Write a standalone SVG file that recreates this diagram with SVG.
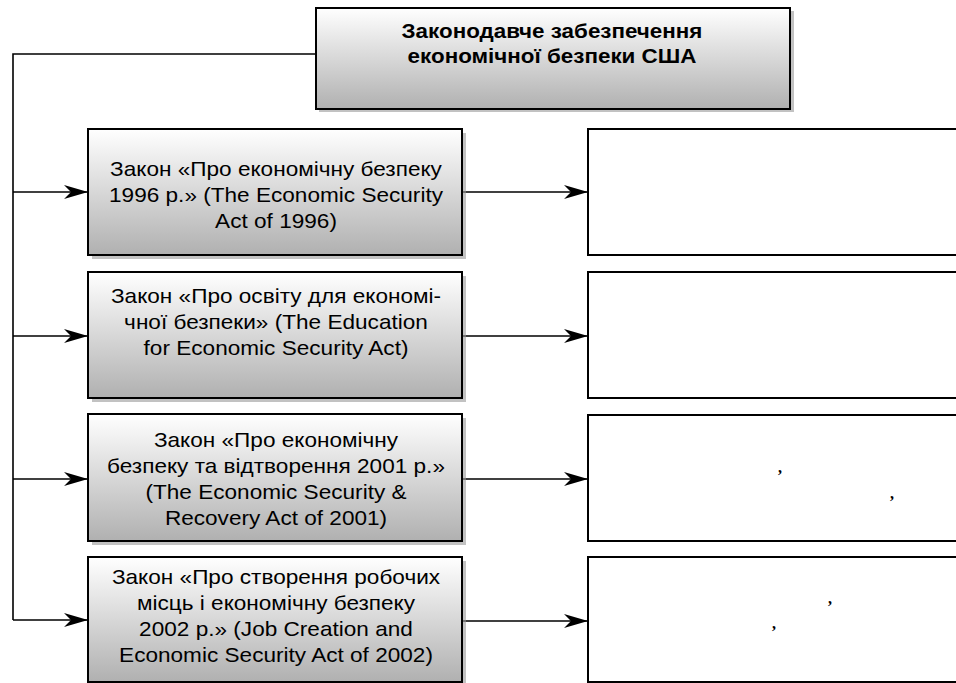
<svg xmlns="http://www.w3.org/2000/svg" width="956" height="683" viewBox="0 0 956 683">
<style>
.box{stroke:#000;stroke-width:2;fill:url(#g)}
.sh{fill:#9a9a9a;opacity:0.6}
.rbox{stroke:#000;stroke-width:2;fill:#fff}
.t{font-family:"Liberation Sans",Arial,sans-serif;font-size:20px;fill:#000;text-anchor:middle}
.tb{font-family:"Liberation Sans",Arial,sans-serif;font-size:20px;font-weight:bold;fill:#000;text-anchor:middle}
.c{font-family:"Liberation Serif","Times New Roman",serif;font-size:16px;font-weight:bold;fill:#000}
.ln{stroke:#000;stroke-width:1.6;fill:none}
</style>
<defs>
<linearGradient id="g" x1="0" y1="0" x2="0" y2="1">
<stop offset="0" stop-color="#ffffff"/>
<stop offset="1" stop-color="#b0b0b0"/>
</linearGradient>
<marker id="ah" markerUnits="userSpaceOnUse" viewBox="0 0 24 14" markerWidth="24" markerHeight="14" refX="24" refY="7" orient="auto">
<path d="M0,0 L24,7 L0,14 L7,7 z" fill="#000"/>
</marker>
</defs>
<g id="connectors">
<polyline class="ln" points="315,54 13,54 13,620"/>
<line class="ln" x1="13" y1="192" x2="88" y2="192" marker-end="url(#ah)"/>
<line class="ln" x1="13" y1="336" x2="88" y2="336" marker-end="url(#ah)"/>
<line class="ln" x1="13" y1="479" x2="88" y2="479" marker-end="url(#ah)"/>
<line class="ln" x1="13" y1="620" x2="88" y2="620" marker-end="url(#ah)"/>
<line class="ln" x1="462" y1="192" x2="588" y2="192" marker-end="url(#ah)"/>
<line class="ln" x1="462" y1="336" x2="588" y2="336" marker-end="url(#ah)"/>
<line class="ln" x1="462" y1="479" x2="588" y2="479" marker-end="url(#ah)"/>
<line class="ln" x1="462" y1="621" x2="588" y2="621" marker-end="url(#ah)"/>
</g>
<g id="top">
<rect class="sh" x="319" y="11" width="475" height="101"/>
<rect class="box" x="316" y="8" width="474" height="101"/>
<g transform="matrix(1.12 0 0 1 552 0)">
<text class="tb" x="0" y="38">Законодавче забезпечення</text>
<text class="tb" x="0" y="63">економічної безпеки США</text>
</g>
</g>
<g id="law1">
<rect class="sh" x="92" y="133" width="374" height="126"/>
<rect class="box" x="88" y="129" width="374" height="126"/>
<g transform="matrix(1.13 0 0 1 276 0)">
<text class="t" x="0" y="176">Закон «Про економічну безпеку</text>
<text class="t" x="0" y="202">1996 р.» (The Economic Security</text>
<text class="t" x="0" y="228">Act of 1996)</text>
</g>
</g>
<g id="law2">
<rect class="sh" x="92" y="276" width="374" height="126"/>
<rect class="box" x="88" y="272" width="374" height="126"/>
<g transform="matrix(1.13 0 0 1 276 0)">
<text class="t" x="0" y="303">Закон «Про освіту для економі-</text>
<text class="t" x="0" y="329">чної безпеки» (The Education</text>
<text class="t" x="0" y="355">for Economic Security Act)</text>
</g>
</g>
<g id="law3">
<rect class="sh" x="92" y="418" width="374" height="127"/>
<rect class="box" x="88" y="414" width="374" height="127"/>
<g transform="matrix(1.13 0 0 1 276 0)">
<text class="t" x="0" y="447">Закон «Про економічну</text>
<text class="t" x="0" y="473">безпеку та відтворення 2001 р.»</text>
<text class="t" x="0" y="499">(The Economic Security &amp;</text>
<text class="t" x="0" y="525">Recovery Act of 2001)</text>
</g>
</g>
<g id="law4">
<rect class="sh" x="92" y="561" width="374" height="126"/>
<rect class="box" x="88" y="557" width="374" height="125"/>
<g transform="matrix(1.13 0 0 1 276 0)">
<text class="t" x="0" y="584">Закон «Про створення робочих</text>
<text class="t" x="0" y="610">місць і економічну безпеку</text>
<text class="t" x="0" y="636">2002 р.» (Job Creation and</text>
<text class="t" x="0" y="662">Economic Security Act of 2002)</text>
</g>
</g>
<g id="r1"><rect class="rbox" x="588" y="129" width="380" height="126"/></g>
<g id="r2"><rect class="rbox" x="588" y="272" width="380" height="126"/></g>
<g id="r3"><rect class="rbox" x="588" y="415" width="380" height="126"/>
<text class="c" x="778" y="473">,</text>
<text class="c" x="890" y="499">,</text>
</g>
<g id="r4"><rect class="rbox" x="588" y="557" width="380" height="125"/>
<text class="c" x="828" y="604">,</text>
<text class="c" x="772" y="629">,</text>
</g>
</svg>
